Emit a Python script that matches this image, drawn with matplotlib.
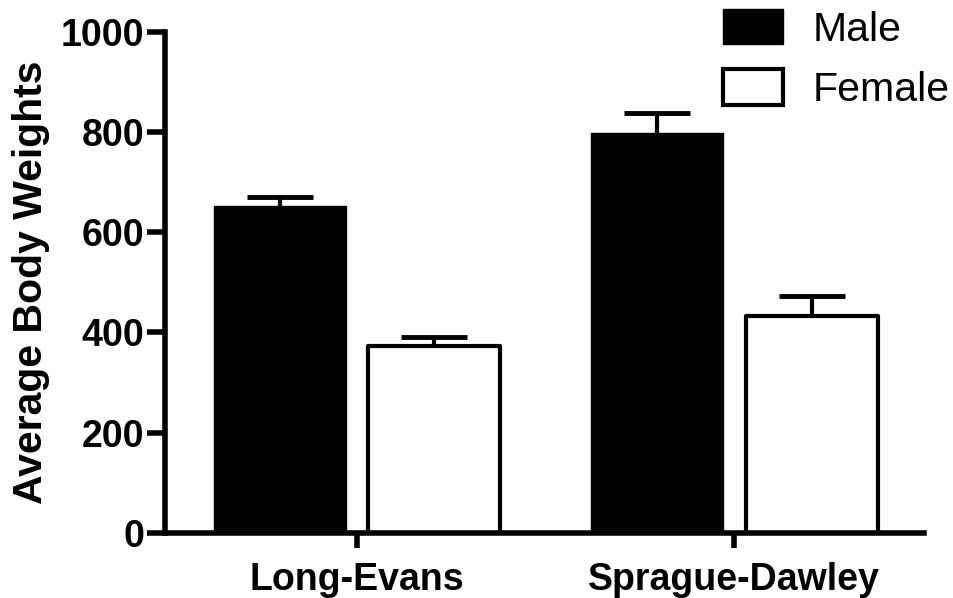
import numpy as np
import matplotlib.pyplot as plt

strains = ['Long-Evans', 'Sprague-Dawley']
male_mean = [652, 797]
male_err = [18, 40]
female_mean = [373, 432]
female_err = [17, 40]

plt.rcParams['font.family'] = ['Liberation Sans', 'DejaVu Sans']

fig = plt.figure(figsize=(9.54, 5.98), dpi=100)
ax = fig.add_axes([0.173, 0.109, 0.796, 0.838])

x = np.arange(len(strains))
w = 0.35
off = 0.205

ekw = dict(ecolor='black', elinewidth=3, capsize=24, capthick=3.5)
b1 = ax.bar(x - off, male_mean, w, color='black', edgecolor='black', linewidth=1,
            yerr=[np.zeros(len(x)), male_err], error_kw=ekw, label='Male')
b2 = ax.bar(x + off, female_mean, w, color='white', edgecolor='black', linewidth=3,
            yerr=[np.zeros(len(x)), female_err], error_kw=ekw, label='Female')
for p in list(b1) + list(b2):
    p.set_joinstyle('round')
# only the upper cap is wanted
for cont in (b1, b2):
    caps = cont.errorbar.lines[1]
    caps[0].set_visible(False)

ax.set_xlim(-0.509, 1.504)
ax.set_ylim(0, 1000)
ax.set_yticks([0, 200, 400, 600, 800, 1000])
ax.set_xticks(x)
ax.set_xticklabels(strains, fontsize=27, fontweight='bold')
for lab in ax.get_yticklabels():
    lab.set_fontsize(27)
    lab.set_fontweight('bold')
ax.set_ylabel('Average Body Weights', fontsize=29.5, fontweight='bold', labelpad=8)

for s in ['top', 'right']:
    ax.spines[s].set_visible(False)
for s in ['left', 'bottom']:
    ax.spines[s].set_linewidth(4)
ax.tick_params(axis='y', length=13, width=4, pad=2)
ax.tick_params(axis='x', length=11, width=4, pad=10)

ax.legend(handles=[b1, b2], loc='upper left', bbox_to_anchor=(0.758, 0.985),
          bbox_transform=fig.transFigure, frameon=False, fontsize=29.5,
          handlelength=1.46, handleheight=0.95, handletextpad=0.72,
          labelspacing=0.5, borderpad=0, borderaxespad=0)

fig.savefig('out.png', dpi=100)
